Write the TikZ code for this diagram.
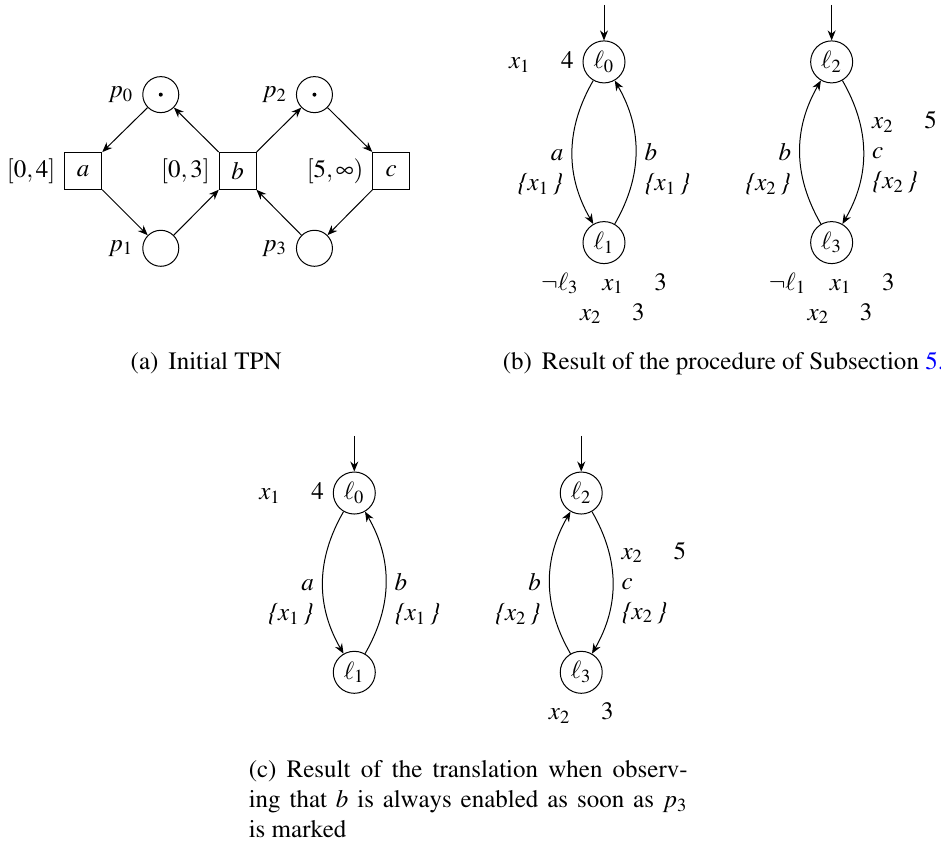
\documentclass[tikz,border=0pt]{standalone}
\usepackage[T1]{fontenc}
\usepackage{mathptmx}
\usepackage{xcolor}
\usepackage{tikz}
\usetikzlibrary{arrows.meta,positioning}
\definecolor{lnkblue}{RGB}{0,0,255}
\newcommand{\relgap}{\mathrel{\hphantom{\leq}}}
\newcommand{\andgap}{\mathbin{\hphantom{\wedge}}}
\newcommand{\orgap}{\hphantom{\vee}}
\newcommand{\rset}[1]{\textit{\textbraceleft}$#1$\,\textit{\textbraceright}}
\tikzset{
  tpplace/.style={draw, circle, minimum size=14.4pt, inner sep=0pt},
  tptrans/.style={draw, rectangle, minimum size=14.8pt, inner sep=0pt},
  tparc/.style={-{Stealth[length=4pt,width=3.2pt]}},
  taloc/.style={draw, circle, minimum size=16.8pt, inner sep=1pt},
  taedge/.style={-{Stealth[length=4pt,width=3.2pt]}},
  capnode/.style={inner sep=0pt}
}

\begin{document}
\begin{tikzpicture}
  \useasboundingbox (0,0) rectangle (13.227,-11.849);
  % (a) initial TPN
  \node[tpplace, label=left:{$p_0$}] (p0) at (2.26,-1.33) {};
  \node[tpplace, label=left:{$p_2$}] (p2) at (4.42,-1.33) {};
  \node[tpplace, label=left:{$p_1$}] (p1) at (2.26,-3.49) {};
  \node[tpplace, label=left:{$p_3$}] (p3) at (4.42,-3.49) {};
  \node[tptrans, label=left:{$[0,4]$}] (ta) at (1.17,-2.40) {$a$};
  \node[tptrans, label=left:{$[0,3]$}] (tb) at (3.34,-2.40) {$b$};
  \node[tptrans, label=left:{$[5,\infty)$}] (tc) at (5.50,-2.40) {$c$};
  \fill (p0) circle (0.8pt);
  \fill (p2) circle (0.8pt);
  \draw[tparc] (p0) -- (ta);
  \draw[tparc] (ta) -- (p1);
  \draw[tparc] (p1) -- (tb);
  \draw[tparc] (tb) -- (p0);
  \draw[tparc] (tb) -- (p2);
  \draw[tparc] (p2) -- (tc);
  \draw[tparc] (tc) -- (p3);
  \draw[tparc] (p3) -- (tb);
  \node[capnode, anchor=base west] (capA) at (1.83,-5.20) {(a)\hspace{4pt}Initial TPN};

  % (b) procedure of the subsection
  \node[taloc] (bL0) at (8.49,-0.87) {$\ell_0$};
  \node[taloc] (bL1) at (8.49,-3.41) {$\ell_1$};
  \node[taloc] (bL2) at (11.69,-0.87) {$\ell_2$};
  \node[taloc] (bL3) at (11.69,-3.41) {$\ell_3$};
  \coordinate[above=0.5cm of bL0] (bI0);
  \coordinate[above=0.5cm of bL2] (bI2);
  \draw[taedge] (bI0) -- (bL0);
  \draw[taedge] (bI2) -- (bL2);
  \node[left=0pt of bL0] (bInv0) {$x_1\relgap 4$};
  \node[below=0pt of bL1, align=center] (bInv1) {$\neg\ell_3\andgap x_1\relgap 3$\\$\orgap x_2\relgap 3$};
  \node[below=0pt of bL3, align=center] (bInv3) {$\neg\ell_1\andgap x_1\relgap 3$\\$\orgap x_2\relgap 3$};
  \draw[taedge] (bL0) to[bend right] node[left, align=right] {\strut\\$a$\\\rset{x_1}} (bL1);
  \draw[taedge] (bL1) to[bend right] node[right, align=left] {\strut\\$b$\\\rset{x_1}} (bL0);
  \draw[taedge] (bL2) to[bend left] node[right, align=left] {$x_2\relgap 5$\\$c$\\\rset{x_2}} (bL3);
  \draw[taedge] (bL3) to[bend left] node[left, align=right] {\strut\\$b$\\\rset{x_2}} (bL2);
  \node[capnode, anchor=base west] (capB) at (7.06,-5.20) {(b)\hspace{4pt}Result of the procedure of Subsection \textcolor{lnkblue}{5.}};

  % (c) translation when b is always enabled
  \node[taloc] (cL0) at (4.98,-6.93) {$\ell_0$};
  \node[taloc] (cL1) at (4.98,-9.45) {$\ell_1$};
  \node[taloc] (cL2) at (8.17,-6.93) {$\ell_2$};
  \node[taloc] (cL3) at (8.17,-9.45) {$\ell_3$};
  \coordinate[above=0.5cm of cL0] (cI0);
  \coordinate[above=0.5cm of cL2] (cI2);
  \draw[taedge] (cI0) -- (cL0);
  \draw[taedge] (cI2) -- (cL2);
  \node[left=0pt of cL0] (cInv0) {$x_1\relgap 4$};
  \node[below=0pt of cL3] (cInv3) {$x_2\relgap 3$};
  \draw[taedge] (cL0) to[bend right] node[left, align=right] {\strut\\$a$\\\rset{x_1}} (cL1);
  \draw[taedge] (cL1) to[bend right] node[right, align=left] {\strut\\$b$\\\rset{x_1}} (cL0);
  \draw[taedge] (cL2) to[bend left] node[right, align=left] {$x_2\relgap 5$\\$c$\\\rset{x_2}} (cL3);
  \draw[taedge] (cL3) to[bend left] node[left, align=right] {\strut\\$b$\\\rset{x_2}} (cL2);
  \node[capnode, anchor=north west, text width=6.17cm, align=justify] (capC) at (3.49,-10.68)
    {(c) Result of the translation when observ-\linebreak ing that $b$ is always enabled as soon as $p_3$\linebreak is marked};
\end{tikzpicture}
\end{document}
